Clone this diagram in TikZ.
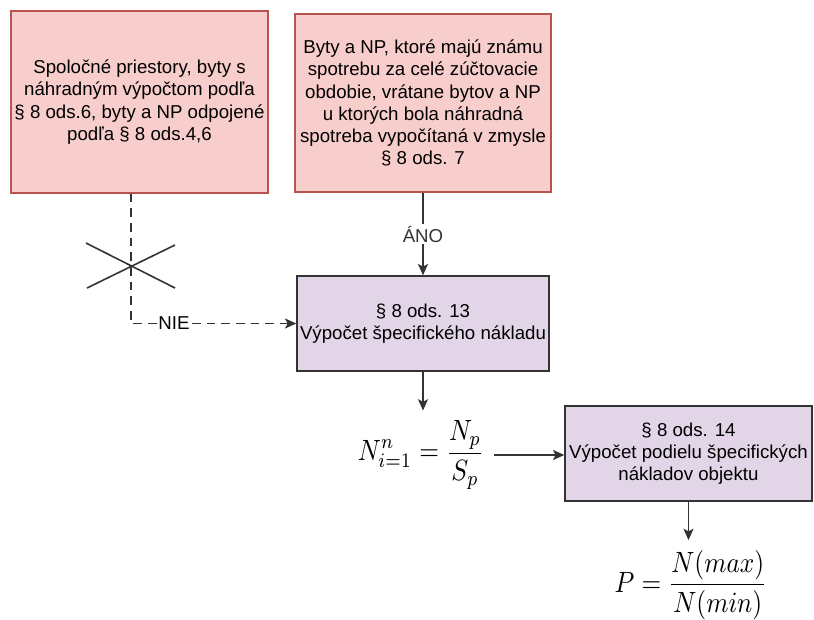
\documentclass[tikz,border=0pt]{standalone}
\usepackage{amsmath}
\usepackage[no-math]{fontspec}
\setmainfont{Liberation Sans}
\usepackage{tikz}
\usetikzlibrary{arrows.meta}
\usetikzlibrary{calc}

\definecolor{pinkfill}{HTML}{F8CECC}
\definecolor{pinkline}{HTML}{B85450}
\definecolor{lilacfill}{HTML}{E1D5E7}
\definecolor{darkline}{HTML}{333333}

\newcommand{\boxfont}{\fontsize{14}{16.6}\selectfont}
\newcommand{\bigform}[1]{\scalebox{1.9}[2.2]{$\displaystyle #1$}}

\tikzset{
  pinkbox/.style={draw=pinkline, fill=pinkfill, line width=1pt, align=center, font=\boxfont, inner sep=1pt},
  lilacbox/.style={draw=darkline, fill=lilacfill, line width=1pt, align=center, font=\boxfont, inner sep=1pt},
  formula/.style={inner sep=7.5pt},
  conn/.style={darkline, line width=1.2pt, -{Stealth[length=8.5pt,width=7.5pt,inset=2pt]}},
  dashconn/.style={conn, dash pattern=on 6.5pt off 4.5pt},
  lbl/.style={fill=white, inner sep=1pt, font=\boxfont}
}

\begin{document}
\begin{tikzpicture}[x=0.75pt,y=-0.75pt]
       \useasboundingbox (0,0) rectangle (814,619);

       % top row
       \node[pinkbox, minimum width=192.75pt, minimum height=136.5pt] (spolocne) at (139.5,102)
            {Spoločné priestory, byty s\\náhradným výpočtom podľa\\§ 8 ods.6, byty a NP odpojené\\podľa § 8 ods.4,6};
       \node[pinkbox, minimum width=192pt, minimum height=133.5pt] (znama) at (423,103)
            {Byty a NP, ktoré majú známu\\spotrebu za celé zúčtovacie\\obdobie, vrátane bytov a NP\\u ktorých bola náhradná\\spotreba vypočítaná v zmysle\\§ 8 ods. 7};

       % calculation steps
       \node[lilacbox, minimum width=189pt, minimum height=71.25pt] (ods13) at (423,323.5)
            {§ 8 ods. 13\\Výpočet špecifického nákladu};
       \node[formula] (specN) at (421,455) {\bigform{N_{i=1}^{n}=\frac{N_p}{S_p}}};
       \node[lilacbox, minimum width=185.25pt, minimum height=71.25pt] (ods14) at (688.5,453.5)
            {§ 8 ods. 14\\Výpočet podielu špecifických\\nákladov objektu};
       \node[formula] (podiel) at (691,585) {\bigform{P=\frac{N(max)}{N(min)}}};

       % excluded branch
       \coordinate (cross) at (131,266);
       \draw[dashconn] (cross |- spolocne.south) |- (ods13.west);
       \node[lbl] (nie) at (174,323) {NIE};
       \draw[darkline, line width=1.2pt] ($(cross)+(-45,-23)$) -- ($(cross)+(44,22)$);
       \draw[darkline, line width=1.2pt] ($(cross)+(-44,22)$) -- ($(cross)+(44,-21)$);

       % main flow
       \draw[conn] (znama.south) -- (ods13.north) node[lbl, midway] {ÁNO};
       \draw[conn] (ods13.south) -- (ods13.south |- specN.north);
       \draw[conn] (specN.east) -- (specN.east -| ods14.west);
       \draw[conn] (ods14.south) -- (ods14.south |- podiel.north);
      \end{tikzpicture}
\end{document}
